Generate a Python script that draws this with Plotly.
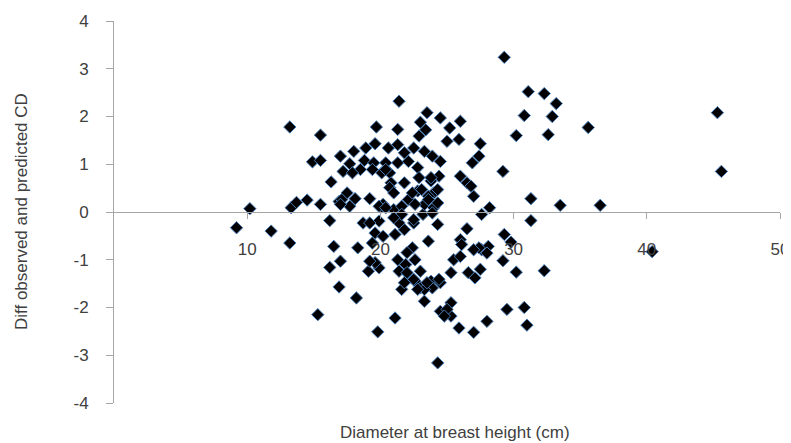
import plotly.graph_objects as go

# Diameter at breast height (cm)
dbh = [9.2, 10.2, 11.8, 13.2, 13.2, 15.5, 14.9, 15.5, 13.3, 13.7,
       14.5, 15.5, 16.2, 16.3, 17.0, 17.2, 17.7, 18.0, 17.5, 16.9,
       17.7, 18.1, 19.2, 19.7, 18.9, 19.6, 20.6, 18.8, 19.5, 20.4,
       20.1, 20.7, 20.8, 20.1, 21.0, 21.4, 21.3, 21.3, 21.3, 18.7,
       19.9, 16.5, 18.3, 17.0, 16.2, 16.9, 18.2, 15.3, 19.1, 19.9,
       19.6, 21.1, 19.8, 24.3, 23.6, 24.3, 21.4, 21.6, 23.3, 24.5,
       22.1, 22.6, 23.0, 23.8, 22.6, 22.4, 21.1, 21.8, 22.5, 23.2,
       24.0, 23.5, 24.5, 23.0, 25.2, 26.0, 22.9, 22.5, 25.0, 25.9,
       27.5, 23.3, 23.9, 24.5, 22.1, 22.8, 21.8, 27.4, 26.9, 26.0,
       26.5, 27.0, 21.8, 22.8, 23.8, 24.4, 24.0, 22.1, 23.3, 24.3,
       21.6, 28.2, 27.6, 26.5, 29.3, 26.0, 26.1, 27.6, 28.1, 27.4,
       29.8, 25.5, 26.0, 29.2, 32.3, 30.2, 27.5, 26.6, 27.1, 25.3,
       24.5, 23.9, 23.3, 22.5, 23.0, 25.3, 25.3, 25.9, 27.0, 28.0,
       29.5, 30.8, 31.0, 22.0, 21.9, 19.2, 19.6, 19.4, 20.2, 19.2,
       21.3, 22.0, 21.8, 22.8, 23.5, 21.4, 21.6, 21.0, 23.9, 22.6,
       27.0, 28.0, 24.4, 25.0, 24.8, 18.5, 20.2, 20.7, 22.4, 23.1,
       23.6, 24.3, 22.9, 23.8, 23.4, 26.8, 23.6, 22.5, 17.9, 20.4,
       19.4, 21.0, 17.1, 17.0, 19.9, 20.4,
       45.3, 45.6, 36.5, 35.6, 33.5, 31.3, 31.3, 29.3, 31.1, 32.3,
       33.2, 30.8, 32.9, 30.2, 32.6, 29.2, 40.4]

# Difference between observed and predicted CD
diff = [-0.33, 0.07, -0.40, -0.65, 1.78, 1.61, 1.05, 1.08, 0.09, 0.20,
        0.25, 0.16, -0.18, 0.63, 1.17, 0.85, 1.01, 1.27, 0.40, 0.22,
        0.12, 0.28, 0.28, 1.78, 1.34, 1.43, 1.34, 1.08, 1.03, 1.03,
        0.82, 0.82, 0.61, 0.11, 0.05, 2.32, 1.73, 1.41, 1.03, -0.23,
        -0.19, -0.72, -0.75, -1.03, -1.16, -1.57, -1.80, -2.15, -1.24, -1.17,
        -1.06, -2.22, -2.51, -3.16, -0.61, -0.26, -1.24, -1.62, -1.87, -2.08,
        -1.31, -1.45, -1.59, -1.45, -1.00, -0.75, -0.47, -0.37, -0.23, -0.05,
        0.09, 2.08, 1.97, 1.88, 1.76, 1.90, 1.59, 1.34, 1.48, 1.52,
        1.43, 1.27, 1.17, 1.06, 1.06, 0.93, 1.24, 1.17, 1.03, 0.75,
        0.61, 0.33, 0.61, 0.44, 0.65, 0.75, 0.40, 0.26, 0.16, 0.19,
        0.12, 0.09, -0.05, -0.35, -0.47, -0.58, -0.68, -0.79, -0.72, -0.75,
        -0.63, -1.00, -0.93, -1.02, -1.23, -1.26, -1.20, -1.27, -1.38, -1.27,
        -1.48, -1.59, -1.62, -1.41, -1.24, -1.90, -2.18, -2.43, -2.52, -2.29,
        -2.04, -2.00, -2.37, -0.85, -1.10, -0.23, -0.44, -0.65, -0.51, -1.03,
        -1.00, -1.27, -1.48, -1.62, -1.48, -0.23, -0.05, -0.12, -0.02, 0.16,
        -0.79, -0.86, -1.41, -2.04, -2.18, 0.89, 0.16, 0.51, 0.40, 0.47,
        0.33, 0.47, 0.72, 0.72, 1.72, 0.54, 0.26, -0.16, 0.82, 0.89,
        0.89, 0.40, 0.26, 0.16, 0.12, 0.09,
        2.08, 0.85, 0.14, 1.77, 0.14, 0.28, -0.18, 3.24, 2.52, 2.48,
        2.27, 2.02, 2.00, 1.60, 1.62, 0.85, -0.83]

x_ticks = [10, 20, 30, 40, 50]
x_tick_text = ["10", "20", "30", "40", "50"]
y_ticks = [-4, -3, -2, -1, 0, 1, 2, 3, 4]
y_tick_text = ["-4", "-3", "-2", "-1", "0", "1", "2", "3", "4"]

FONT = "Liberation Sans, Arial, sans-serif"
AXIS_GRAY = "#a6a6a6"
TEXT = "#404040"

fig = go.Figure()
fig.add_trace(go.Scatter(
    x=dbh, y=diff, mode="markers",
    marker=dict(symbol="diamond", size=9.5, color="black",
                line=dict(color="#4a7ebb", width=1)),
    showlegend=False, hoverinfo="x+y",
))

fig.update_layout(
    width=783, height=435,
    margin=dict(l=106, r=11, t=13, b=40, autoexpand=False),
    paper_bgcolor="white", plot_bgcolor="white",
    font=dict(family=FONT, size=17, color=TEXT),
    xaxis=dict(
        range=[0, 50], tickvals=x_ticks, ticktext=x_tick_text,
        anchor="free", position=0.5, automargin=False,
        showline=True, linecolor=AXIS_GRAY, linewidth=1,
        ticks="outside", ticklen=6, tickcolor=AXIS_GRAY, tickwidth=1,
        ticklabelstandoff=16,
        showgrid=False, zeroline=False,
        tickfont=dict(family=FONT, size=17, color=TEXT),
    ),
    yaxis=dict(
        range=[-4, 4], tickvals=y_ticks, ticktext=y_tick_text,
        automargin=False,
        showline=True, linecolor=AXIS_GRAY, linewidth=1,
        ticks="outside", ticklen=7, tickcolor=AXIS_GRAY, tickwidth=1,
        ticklabelstandoff=14,
        showgrid=False, zeroline=False,
        tickfont=dict(family=FONT, size=17, color=TEXT),
    ),
    annotations=[
        dict(text="Diameter at breast height (cm)", xref="paper", yref="paper",
             x=0.512, y=-0.0785, xanchor="center", yanchor="middle",
             showarrow=False, font=dict(family=FONT, size=17, color=TEXT)),
        dict(text="Diff observed and predicted CD", xref="paper", yref="paper",
             x=-0.1396, y=0.5, xanchor="center", yanchor="middle", textangle=-90,
             showarrow=False, font=dict(family=FONT, size=17, color=TEXT)),
    ],
)

fig.write_html("out.html")
